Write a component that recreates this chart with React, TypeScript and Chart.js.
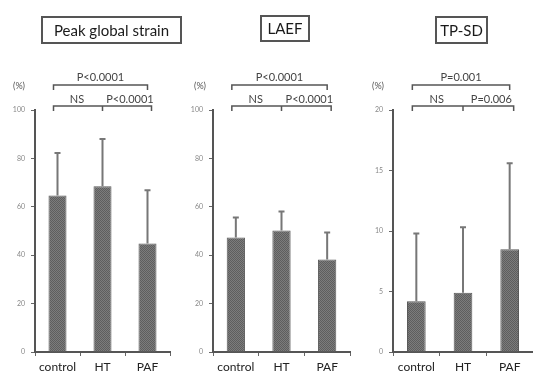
import React, { useEffect, useRef } from "react";
import { Chart, registerables } from "chart.js";

Chart.register(...registerables);

// ---- data ----
const categories = ["control", "HT", "PAF"];

const strainMean = [64.7, 68.5, 44.8];
const strainSD = [17.5, 19.5, 22.0];

const laefMean = [47.3, 50.2, 38.2];
const laefSD = [8.3, 7.9, 11.2];

const tpsdMean = [4.2, 4.9, 8.5];
const tpsdSD = [5.6, 5.4, 7.1];

const strainP = ["P<0.0001", "NS", "P<0.0001"];
const laefP = ["P<0.0001", "NS", "P<0.0001"];
const tpsdP = ["P=0.001", "NS", "P=0.006"];

const titles = ["Peak global strain", "LAEF", "TP-SD"];
const yMaxes = [100, 100, 20];
const ySteps = [20, 20, 5];
const unitLabel = "(%)";

// ---- layout (page coordinates) ----
const W = 533;
const H = 376;
const panels = [
  { mean: strainMean, sd: strainSD, p: strainP, left: 35, right: 170, box: [42, 17, 139, 26], unitX: 19 },
  { mean: laefMean, sd: laefSD, p: laefP, left: 213, right: 350, box: [261, 16, 48, 25], unitX: 200 },
  { mean: tpsdMean, sd: tpsdSD, p: tpsdP, left: 393, right: 533, box: [436, 17, 51, 26], unitX: 378 },
];

const FONT = "Lato, 'Open Sans', sans-serif";

function makePattern(): CanvasPattern | string {
  const c = document.createElement("canvas");
  c.width = 2;
  c.height = 2;
  const g = c.getContext("2d");
  if (!g) return "#6e6e6e";
  g.fillStyle = "#7c7c7c";
  g.fillRect(0, 0, 2, 2);
  g.fillStyle = "#5e5e5e";
  g.fillRect(0, 0, 1, 1);
  g.fillRect(1, 1, 1, 1);
  return g.createPattern(c, "repeat") || "#6e6e6e";
}

function PanelChart({ idx }: { idx: number }) {
  const ref = useRef<HTMLCanvasElement | null>(null);
  useEffect(() => {
    if (!ref.current) return;
    const pn = panels[idx];
    const title = titles[idx];
    const pattern = makePattern();

    const annot = {
      id: "annot" + idx,
      afterDatasetsDraw(chart: any) {
        const ctx = chart.ctx as CanvasRenderingContext2D;
        const xs = chart.scales.x;
        const ys = chart.scales.y;
        ctx.save();
        // error bars
        ctx.strokeStyle = "#777";
        ctx.lineWidth = 2;
        pn.mean.forEach((m, i) => {
          const x = xs.getPixelForValue(i);
          const y0 = ys.getPixelForValue(m);
          const y1 = ys.getPixelForValue(m + pn.sd[i]);
          ctx.beginPath();
          ctx.moveTo(x, y0);
          ctx.lineTo(x, y1);
          ctx.moveTo(x - 3, y1);
          ctx.lineTo(x + 3, y1);
          ctx.stroke();
        });
        ctx.restore();
      },
      afterDraw(chart: any) {
        const ctx = chart.ctx as CanvasRenderingContext2D;
        const xs = chart.scales.x;
        const c0 = xs.getPixelForValue(0);
        const c1 = xs.getPixelForValue(1);
        const c2 = xs.getPixelForValue(2);
        ctx.save();
        // title box
        const [bx, by, bw, bh] = pn.box;
        ctx.strokeStyle = "#555";
        ctx.lineWidth = 2;
        ctx.strokeRect(bx, by, bw, bh);
        ctx.fillStyle = "#1a1a1a";
        ctx.font = `15px ${FONT}`;
        ctx.textAlign = "center";
        ctx.textBaseline = "middle";
        ctx.fillText(title, bx + bw / 2, by + bh / 2 + 1);

        // brackets
        ctx.strokeStyle = "#555";
        ctx.lineWidth = 1.5;
        const topY = 85;
        const lowY = 106;
        const drop = 5;
        const l = c0 - 4;
        ctx.beginPath();
        ctx.moveTo(l, topY + drop);
        ctx.lineTo(l, topY);
        ctx.lineTo(c2, topY);
        ctx.lineTo(c2, topY + drop);
        ctx.stroke();
        ctx.beginPath();
        ctx.moveTo(l, lowY + drop);
        ctx.lineTo(l, lowY);
        ctx.lineTo(c2 + 4, lowY);
        ctx.lineTo(c2 + 4, lowY + drop);
        ctx.moveTo(c1, lowY);
        ctx.lineTo(c1, lowY + drop);
        ctx.stroke();

        ctx.fillStyle = "#444";
        ctx.font = `11px ${FONT}`;
        ctx.textAlign = "center";
        ctx.textBaseline = "middle";
        ctx.fillText(pn.p[0], (l + c2) / 2, topY - 8);
        ctx.fillText(pn.p[1], (c0 + c1) / 2 - 3, lowY - 7);
        ctx.fillText(pn.p[2], (c1 + c2) / 2 + 5, lowY - 7);

        // unit label
        ctx.fillStyle = "#555";
        ctx.font = `9px ${FONT}`;
        ctx.fillText(unitLabel, pn.unitX, 86);
        ctx.restore();
      },
    };

    const chart = new Chart(ref.current, {
      type: "bar",
      data: {
        labels: categories,
        datasets: [
          {
            data: pn.mean,
            backgroundColor: pattern as any,
            borderColor: "#5a5a5a",
            borderWidth: 1,
            barPercentage: 0.4,
            categoryPercentage: 1,
          },
        ],
      },
      options: {
        responsive: false,
        animation: false,
        events: [],
        layout: { padding: { left: pn.left - 30, right: W - pn.right, top: 110, bottom: 0 } },
        plugins: { legend: { display: false }, tooltip: { enabled: false }, title: { display: false } },
        scales: {
          x: {
            grid: { offset: true, drawOnChartArea: false, tickLength: 4, color: "#666", lineWidth: 1 },
            border: { display: true, color: "#555", width: 2 },
            ticks: { color: "#222", font: { family: FONT, size: 12 }, padding: 4, maxRotation: 0, autoSkip: false },
            afterFit: (s: any) => {
              s.height = 24;
            },
          },
          y: {
            min: 0,
            max: yMaxes[idx],
            ticks: { stepSize: ySteps[idx], color: "#888", font: { family: FONT, size: 7 }, padding: 6 },
            grid: { drawOnChartArea: false, tickLength: 4, color: "#666", lineWidth: 1 },
            border: { display: true, color: "#555", width: 2 },
            afterFit: (s: any) => {
              s.width = 30;
            },
          },
        },
      },
      plugins: [annot],
    });
    return () => chart.destroy();
  }, [idx]);
  return (
    <canvas
      ref={ref}
      width={W}
      height={H}
      style={{ position: "absolute", left: 0, top: 0, width: W, height: H }}
    />
  );
}

export default function App() {
  return (
    <div style={{ position: "absolute", left: 0, top: 0, width: W, height: H, background: "#fff", overflow: "hidden" }}>
      <PanelChart idx={0} />
      <PanelChart idx={1} />
      <PanelChart idx={2} />
    </div>
  );
}
